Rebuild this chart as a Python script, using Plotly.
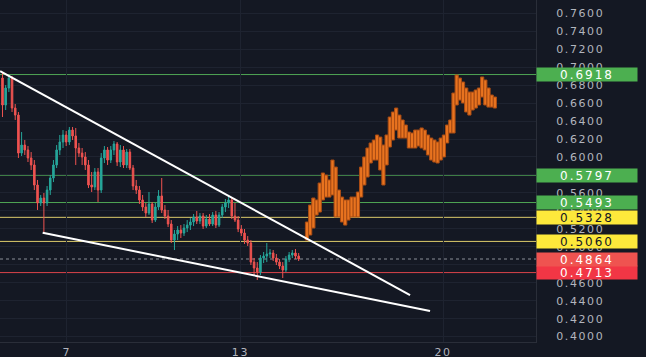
import plotly.graph_objects as go

# ---------------- data ----------------
bar_start_day = 4.782      # first real candle (day of month)
bar_step_day = 0.11        # spacing between candles (days)
proj_start_day = 15.30     # first projected (orange) bar

opens = [0.6879, 0.6579, 0.6768, 0.6879, 0.6545, 0.6467, 0.6044, 0.6133, 0.6078, 0.5989,
         0.5911, 0.5688, 0.5488, 0.5543, 0.5488, 0.5632, 0.5766, 0.5911, 0.6078, 0.6167,
         0.6245, 0.6167, 0.6300, 0.6234, 0.6100, 0.6044, 0.6000, 0.5911, 0.5688, 0.5666,
         0.5833, 0.5632, 0.5989, 0.6078, 0.5966, 0.6078, 0.6145, 0.5944, 0.6078, 0.5911,
         0.6055, 0.5877, 0.5677, 0.5632, 0.5521, 0.5443, 0.5376, 0.5477, 0.5298, 0.5443,
         0.5566, 0.5410, 0.5343, 0.5254, 0.5075, 0.5142, 0.5187, 0.5153, 0.5209, 0.5242,
         0.5276, 0.5332, 0.5287, 0.5343, 0.5231, 0.5309, 0.5254, 0.5354, 0.5242, 0.5354,
         0.5443, 0.5488, 0.5521, 0.5343, 0.5298, 0.5198, 0.5153, 0.5075, 0.5042, 0.4830,
         0.4764, 0.4719, 0.4875, 0.4897, 0.4920, 0.4931, 0.4875, 0.4830, 0.4786, 0.4741,
         0.4864, 0.4908, 0.4931, 0.4897]
closes = [0.6579, 0.6768, 0.6879, 0.6545, 0.6467, 0.6044, 0.6133, 0.6078, 0.5989, 0.5911,
          0.5688, 0.5488, 0.5543, 0.5488, 0.5632, 0.5766, 0.5911, 0.6078, 0.6167, 0.6245,
          0.6167, 0.6300, 0.6234, 0.6100, 0.6044, 0.6000, 0.5911, 0.5688, 0.5666, 0.5833,
          0.5632, 0.5989, 0.6078, 0.5966, 0.6078, 0.6145, 0.5944, 0.6078, 0.5911, 0.6055,
          0.5877, 0.5677, 0.5632, 0.5521, 0.5443, 0.5376, 0.5477, 0.5298, 0.5443, 0.5566,
          0.5410, 0.5343, 0.5254, 0.5075, 0.5142, 0.5187, 0.5153, 0.5209, 0.5242, 0.5276,
          0.5332, 0.5287, 0.5343, 0.5231, 0.5309, 0.5254, 0.5354, 0.5242, 0.5354, 0.5443,
          0.5488, 0.5521, 0.5343, 0.5298, 0.5198, 0.5153, 0.5075, 0.5042, 0.4830, 0.4764,
          0.4719, 0.4875, 0.4897, 0.4920, 0.4931, 0.4875, 0.4830, 0.4786, 0.4741, 0.4864,
          0.4908, 0.4931, 0.4897, 0.4864]
highs = [0.6935, 0.6801, 0.6913, 0.6902, 0.6590, 0.6501, 0.6278, 0.6189, 0.6122, 0.6055,
         0.5966, 0.5744, 0.5577, 0.5599, 0.5677, 0.5799, 0.5966, 0.6133, 0.6245, 0.6300,
         0.6289, 0.6334, 0.6334, 0.6323, 0.6156, 0.6100, 0.6055, 0.5966, 0.5833, 0.5877,
         0.5877, 0.6044, 0.6122, 0.6111, 0.6122, 0.6178, 0.6167, 0.6133, 0.6122, 0.6089,
         0.6089, 0.5911, 0.5744, 0.5677, 0.5577, 0.5488, 0.5610, 0.5499, 0.5488, 0.5632,
         0.5766, 0.5465, 0.5410, 0.5298, 0.5187, 0.5231, 0.5242, 0.5254, 0.5298, 0.5320,
         0.5365, 0.5399, 0.5376, 0.5376, 0.5354, 0.5365, 0.5387, 0.5399, 0.5387, 0.5477,
         0.5532, 0.5566, 0.5554, 0.5488, 0.5343, 0.5242, 0.5198, 0.5120, 0.5075, 0.4875,
         0.4830, 0.4908, 0.4942, 0.5042, 0.4975, 0.4964, 0.4920, 0.4864, 0.4830, 0.4897,
         0.4942, 0.4964, 0.4975, 0.4931]
lows = [0.6445, 0.6523, 0.6723, 0.6501, 0.6412, 0.5989, 0.6011, 0.6022, 0.5944, 0.5855,
        0.5632, 0.5410, 0.5454, 0.5164, 0.5454, 0.5577, 0.5721, 0.5877, 0.6022, 0.6100,
        0.6122, 0.6133, 0.6189, 0.5911, 0.6000, 0.5911, 0.5855, 0.5654, 0.5610, 0.5632,
        0.5499, 0.5599, 0.5933, 0.5911, 0.5933, 0.6022, 0.5900, 0.5888, 0.5877, 0.5877,
        0.5855, 0.5632, 0.5588, 0.5477, 0.5399, 0.5332, 0.5354, 0.5265, 0.5276, 0.5410,
        0.5376, 0.5309, 0.5220, 0.5042, 0.4964, 0.5075, 0.5098, 0.5120, 0.5164, 0.5187,
        0.5231, 0.5254, 0.5254, 0.5198, 0.5209, 0.5231, 0.5231, 0.5209, 0.5220, 0.5320,
        0.5387, 0.5432, 0.5309, 0.5276, 0.5164, 0.5120, 0.5031, 0.5009, 0.4797, 0.4675,
        0.4630, 0.4686, 0.4819, 0.4830, 0.4875, 0.4842, 0.4797, 0.4752, 0.4652, 0.4719,
        0.4830, 0.4875, 0.4864, 0.4842]

# projected "bars pattern" (orange): top and bottom of each bar
proj_top = [0.5276, 0.5465, 0.5543, 0.5521, 0.5710, 0.5822, 0.5799, 0.5744, 0.5966, 0.5888,
            0.5632, 0.5554, 0.5521, 0.5521, 0.5554, 0.5554, 0.5610, 0.5888, 0.6000, 0.6100,
            0.6156, 0.6189, 0.6245, 0.6222, 0.6133, 0.6245, 0.6445, 0.6501, 0.6545, 0.6467,
            0.6412, 0.6356, 0.6278, 0.6267, 0.6300, 0.6300, 0.6323, 0.6300, 0.6245, 0.6211,
            0.6189, 0.6167, 0.6211, 0.6245, 0.6356, 0.6412, 0.6712, 0.6913, 0.6879, 0.6835,
            0.6768, 0.6723, 0.6723, 0.6746, 0.6768, 0.6891, 0.6857, 0.6768, 0.6690, 0.6668]
proj_bottom = [0.5075, 0.5131, 0.5209, 0.5354, 0.5387, 0.5521, 0.5554, 0.5554, 0.5577, 0.5332,
               0.5332, 0.5276, 0.5242, 0.5298, 0.5332, 0.5332, 0.5332, 0.5554, 0.5688, 0.5777,
               0.5933, 0.5966, 0.5966, 0.5855, 0.5688, 0.5911, 0.6111, 0.6189, 0.6300, 0.6211,
               0.6211, 0.6211, 0.6100, 0.6100, 0.6100, 0.6122, 0.6100, 0.6078, 0.6022, 0.5966,
               0.5944, 0.5933, 0.5966, 0.6000, 0.6156, 0.6267, 0.6267, 0.6579, 0.6634, 0.6601,
               0.6501, 0.6467, 0.6523, 0.6545, 0.6579, 0.6668, 0.6579, 0.6556, 0.6556, 0.6545]

# trend lines (day, price)
upper_trend_days = [4.70, 18.86]
upper_trend_prices = [0.6955, 0.4463]
lower_trend_days = [6.17, 19.55]
lower_trend_prices = [0.5157, 0.4285]

# horizontal levels
level_prices = [0.6918, 0.5797, 0.5493, 0.5328, 0.5060, 0.4713]
level_labels = ["0.6918", "0.5797", "0.5493", "0.5328", "0.5060", "0.4713"]
last_price = 0.4864
last_label = "0.4864"

day_ticks = [7, 13, 20]
day_labels = ["7", "13", "20"]

# ---------------- styles ----------------
BG = "#141823"
GRID = "#1e2330"
AXIS_TXT = "#b2b5be"
level_styles = [
    ("#4fa554", "#4caf50", "#ffffff"),
    ("#4fa554", "#4caf50", "#ffffff"),
    ("#4fa554", "#4caf50", "#ffffff"),
    ("#dccb6a", "#fde93b", "#131722"),
    ("#dccb6a", "#fde93b", "#131722"),
    ("#d9444a", "#f23645", "#ffffff"),
]

real_x = [bar_start_day + bar_step_day * i for i in range(len(opens))]
proj_x = [proj_start_day + bar_step_day * i for i in range(len(proj_top))]
proj_len = [t - b for t, b in zip(proj_top, proj_bottom)]

fig = go.Figure()

fig.add_trace(go.Candlestick(
    x=real_x, open=opens, high=highs, low=lows, close=closes,
    increasing=dict(line=dict(color="#26a69a", width=1), fillcolor="#26a69a"),
    decreasing=dict(line=dict(color="#ef5350", width=1), fillcolor="#ef5350"),
    showlegend=False, hoverinfo="skip",
))

fig.add_trace(go.Bar(
    x=proj_x, y=proj_len, base=proj_bottom, width=bar_step_day,
    marker=dict(color="#e8731f", line=dict(color="#a94c14", width=1)),
    showlegend=False, hoverinfo="skip",
))

for dx, py in ((upper_trend_days, upper_trend_prices), (lower_trend_days, lower_trend_prices)):
    fig.add_trace(go.Scatter(x=dx, y=py, mode="lines",
                             line=dict(color="#ffffff", width=2),
                             showlegend=False, hoverinfo="skip"))

shapes = []
annotations = []
for p, lab, (lc, bc, tc) in zip(level_prices, level_labels, level_styles):
    shapes.append(dict(type="line", xref="paper", x0=0, x1=1, yref="y", y0=p, y1=p,
                       line=dict(color=lc, width=1), layer="below"))
    annotations.append(dict(xref="paper", x=1, xanchor="left", yref="y", y=p,
                            text=lab, showarrow=False, bgcolor=bc, width=100, height=13,
                            borderpad=0, align="center",
                            font=dict(family="DejaVu Sans", size=12, color=tc)))

shapes.append(dict(type="line", xref="paper", x0=0, x1=1, yref="y", y0=last_price, y1=last_price,
                   line=dict(color="#8b8f99", width=1, dash="dot"), layer="below"))
annotations.append(dict(xref="paper", x=1, xanchor="left", yref="y", y=last_price,
                        text=last_label, showarrow=False, bgcolor="#ef5350", width=100, height=13,
                        borderpad=0, align="center",
                        font=dict(family="DejaVu Sans", size=12, color="#ffffff")))

fig.update_layout(
    width=646, height=357,
    margin=dict(l=0, r=110, t=0, b=15),
    paper_bgcolor=BG, plot_bgcolor=BG,
    boxgap=0.3,
    shapes=shapes, annotations=annotations,
    xaxis=dict(range=[4.696, 23.21], rangeslider=dict(visible=False), automargin=False,
               tickmode="array", tickvals=day_ticks, ticktext=day_labels,
               showgrid=True, gridcolor=GRID, gridwidth=1, zeroline=False,
               showline=True, linecolor="#2a2e39", mirror=False,
               ticks="", ticklabelstandoff=0,
               tickfont=dict(family="DejaVu Sans", size=11, color=AXIS_TXT),
               fixedrange=True),
    yaxis=dict(range=[0.3940, 0.7748], side="right", dtick=0.02, tick0=0, automargin=False,
               tickformat=".4f", showgrid=True, gridcolor=GRID, gridwidth=1,
               zeroline=False, showline=True, linecolor="#2a2e39",
               ticks="outside", ticklen=0, ticklabelstandoff=17,
               tickfont=dict(family="DejaVu Sans", size=11, color=AXIS_TXT),
               fixedrange=True),
    font=dict(family="DejaVu Sans"),
)

post_js = """
document.body.style.margin='0';
document.body.style.overflow='hidden';
document.documentElement.style.background='%s';
document.querySelectorAll('.ytick text, .xtick text').forEach(function(t){ t.style.letterSpacing='1.6px'; });
document.querySelectorAll('.annotation-text').forEach(function(t){ t.style.letterSpacing='2px'; });
""" % BG

fig.write_html("out.html", post_script=post_js, config={"displayModeBar": False})
